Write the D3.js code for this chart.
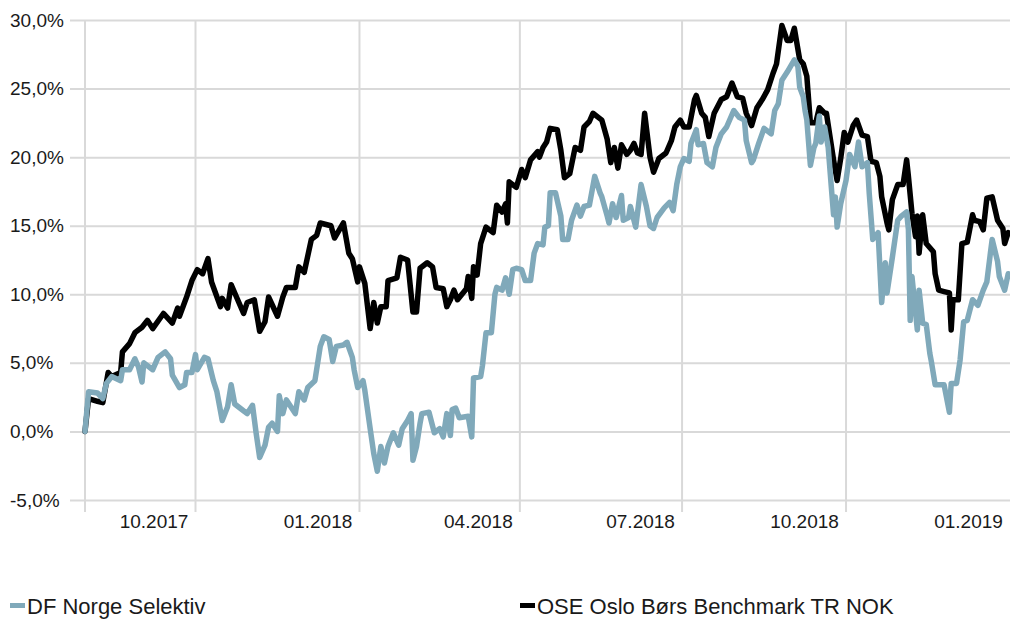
<!DOCTYPE html>
<html>
<head>
<meta charset="utf-8">
<script src="https://cdn.jsdelivr.net/npm/d3@7"></script>
<style>
  html, body { margin: 0; padding: 0; background: #fff; }
  svg { display: block; font-family: 'Liberation Sans', Arial, sans-serif; }
</style>
</head>
<body>
<div id="chart"></div>
<script>
// values (date, return in %)
const fund = [
  ['2017-07-31', 0], ['2017-08-02', 2.9], ['2017-08-07', 2.8], ['2017-08-10', 2.4], ['2017-08-12', 3.5],
  ['2017-08-15', 4.0], ['2017-08-20', 3.7], ['2017-08-21', 4.5], ['2017-08-25', 4.5], ['2017-08-28', 5.3],
  ['2017-08-30', 4.7], ['2017-09-01', 3.6], ['2017-09-02', 5.0], ['2017-09-07', 4.5], ['2017-09-10', 5.4],
  ['2017-09-14', 5.8], ['2017-09-17', 5.3], ['2017-09-18', 4.1], ['2017-09-22', 3.2], ['2017-09-25', 3.4],
  ['2017-09-26', 4.3], ['2017-09-29', 4.3], ['2017-10-01', 5.6], ['2017-10-02', 4.5], ['2017-10-06', 5.4],
  ['2017-10-08', 5.3], ['2017-10-11', 3.7], ['2017-10-13', 2.9], ['2017-10-16', 0.8], ['2017-10-19', 1.8],
  ['2017-10-21', 3.4], ['2017-10-23', 2.0], ['2017-10-27', 1.6], ['2017-10-30', 1.3], ['2017-11-02', 1.9],
  ['2017-11-04', -0.1], ['2017-11-06', -1.9], ['2017-11-09', -1.0], ['2017-11-11', 0.3], ['2017-11-13', 0.6],
  ['2017-11-16', 0.0], ['2017-11-17', 2.6], ['2017-11-19', 1.3], ['2017-11-21', 2.3], ['2017-11-26', 1.3],
  ['2017-11-28', 2.9], ['2017-12-01', 2.3], ['2017-12-03', 3.2], ['2017-12-07', 3.7], ['2017-12-10', 6.2],
  ['2017-12-12', 6.9], ['2017-12-15', 6.7], ['2017-12-17', 5.1], ['2017-12-19', 6.2], ['2017-12-23', 6.3],
  ['2017-12-25', 6.5], ['2017-12-28', 5.4], ['2017-12-29', 4.5], ['2017-12-31', 3.2], ['2018-01-03', 3.7],
  ['2018-01-04', 3.0], ['2018-01-07', 0.2], ['2018-01-09', -1.6], ['2018-01-11', -2.9], ['2018-01-13', -1.1],
  ['2018-01-15', -2.3], ['2018-01-17', -1.1], ['2018-01-20', -0.1], ['2018-01-23', -1.0], ['2018-01-25', 0.2],
  ['2018-01-28', 0.8], ['2018-01-30', 1.3], ['2018-01-31', -2.1], ['2018-02-02', -1.1], ['2018-02-04', 0.6],
  ['2018-02-05', 1.3], ['2018-02-09', 1.4], ['2018-02-12', -0.1], ['2018-02-15', 0.2], ['2018-02-17', -0.4],
  ['2018-02-19', 1.3], ['2018-02-21', -0.3], ['2018-02-22', 1.6], ['2018-02-24', 1.7], ['2018-02-26', 1.0],
  ['2018-03-03', 1.1], ['2018-03-05', -0.4], ['2018-03-06', 3.9], ['2018-03-10', 4.0], ['2018-03-11', 4.8],
  ['2018-03-13', 7.2], ['2018-03-16', 7.2], ['2018-03-18', 10.0], ['2018-03-19', 10.5], ['2018-03-22', 10.3],
  ['2018-03-24', 11.2], ['2018-03-26', 10.0], ['2018-03-28', 11.8], ['2018-03-30', 11.9], ['2018-04-02', 11.8],
  ['2018-04-04', 11.0], ['2018-04-07', 11.0], ['2018-04-09', 13.0], ['2018-04-11', 13.7], ['2018-04-14', 13.6],
  ['2018-04-15', 14.9], ['2018-04-17', 15.0], ['2018-04-18', 17.4], ['2018-04-21', 17.4], ['2018-04-24', 15.7],
  ['2018-04-25', 14.0], ['2018-04-28', 14.0], ['2018-04-30', 15.4], ['2018-05-03', 16.5], ['2018-05-05', 15.7],
  ['2018-05-07', 16.4], ['2018-05-10', 16.5], ['2018-05-13', 18.6], ['2018-05-16', 17.4], ['2018-05-17', 17.1],
  ['2018-05-20', 15.7], ['2018-05-21', 15.2], ['2018-05-23', 16.6], ['2018-05-25', 15.6], ['2018-05-28', 17.2],
  ['2018-05-29', 15.4], ['2018-06-01', 15.6], ['2018-06-02', 16.4], ['2018-06-05', 14.9], ['2018-06-08', 18.0],
  ['2018-06-11', 16.4], ['2018-06-13', 15.0], ['2018-06-15', 14.8], ['2018-06-17', 15.6], ['2018-06-21', 16.3],
  ['2018-06-24', 16.7], ['2018-06-26', 16.1], ['2018-06-28', 18.0], ['2018-06-30', 19.3], ['2018-07-02', 19.9],
  ['2018-07-05', 19.7], ['2018-07-06', 21.0], ['2018-07-09', 22.0], ['2018-07-10', 20.9], ['2018-07-13', 21.0],
  ['2018-07-15', 19.6], ['2018-07-18', 19.3], ['2018-07-20', 20.7], ['2018-07-23', 21.7], ['2018-07-26', 22.2],
  ['2018-07-30', 23.4], ['2018-08-02', 22.9], ['2018-08-05', 22.7], ['2018-08-06', 21.2], ['2018-08-09', 19.6],
  ['2018-08-10', 19.8], ['2018-08-13', 21.0], ['2018-08-16', 22.1], ['2018-08-20', 21.7], ['2018-08-22', 23.4],
  ['2018-08-24', 23.9], ['2018-08-26', 25.6], ['2018-08-29', 26.2], ['2018-09-02', 27.1], ['2018-09-04', 26.6],
  ['2018-09-05', 25.1], ['2018-09-07', 24.4], ['2018-09-08', 23.4], ['2018-09-09', 22.7], ['2018-09-11', 19.4],
  ['2018-09-13', 20.7], ['2018-09-14', 21.0], ['2018-09-16', 23.0], ['2018-09-17', 21.1], ['2018-09-19', 22.2],
  ['2018-09-21', 20.7], ['2018-09-23', 17.4], ['2018-09-24', 15.8], ['2018-09-25', 17.1], ['2018-09-26', 14.9],
  ['2018-09-28', 16.6], ['2018-10-01', 18.3], ['2018-10-03', 20.2], ['2018-10-06', 19.3], ['2018-10-08', 21.1],
  ['2018-10-10', 19.3], ['2018-10-13', 19.6], ['2018-10-14', 17.4], ['2018-10-16', 14.0], ['2018-10-19', 14.5],
  ['2018-10-21', 9.4], ['2018-10-23', 12.3], ['2018-10-24', 10.1], ['2018-10-27', 12.7], ['2018-10-30', 15.4],
  ['2018-11-01', 15.7], ['2018-11-04', 16.0], ['2018-11-05', 14.7], ['2018-11-06', 8.1], ['2018-11-07', 11.3],
  ['2018-11-10', 7.4], ['2018-11-11', 10.3], ['2018-11-13', 7.9], ['2018-11-15', 7.8], ['2018-11-17', 5.7],
  ['2018-11-18', 5.0], ['2018-11-20', 3.4], ['2018-11-25', 3.4], ['2018-11-28', 1.4], ['2018-11-29', 3.5],
  ['2018-12-02', 3.5], ['2018-12-04', 5.2], ['2018-12-06', 8.0], ['2018-12-08', 8.1], ['2018-12-11', 9.6],
  ['2018-12-14', 9.2], ['2018-12-17', 10.3], ['2018-12-19', 10.9], ['2018-12-21', 13.0], ['2018-12-22', 14.0],
  ['2018-12-25', 12.4], ['2018-12-26', 11.3], ['2018-12-29', 10.3], ['2018-12-31', 11.5]
]

const benchmark = [
  ['2017-07-31', 0], ['2017-08-02', 2.4], ['2017-08-07', 2.2], ['2017-08-10', 2.1], ['2017-08-13', 4.3],
  ['2017-08-15', 4.0], ['2017-08-20', 4.3], ['2017-08-21', 5.8], ['2017-08-25', 6.4], ['2017-08-28', 7.2],
  ['2017-09-01', 7.6], ['2017-09-04', 8.1], ['2017-09-07', 7.5], ['2017-09-13', 8.6], ['2017-09-18', 7.9],
  ['2017-09-21', 9.0], ['2017-09-22', 8.4], ['2017-09-26', 9.8], ['2017-09-29', 11.0], ['2017-10-02', 11.8],
  ['2017-10-05', 11.5], ['2017-10-08', 12.6], ['2017-10-10', 10.9], ['2017-10-15', 9.1], ['2017-10-16', 9.7],
  ['2017-10-19', 9.0], ['2017-10-21', 10.7], ['2017-10-24', 9.8], ['2017-10-28', 8.6], ['2017-10-30', 9.4],
  ['2017-11-03', 9.6], ['2017-11-06', 7.3], ['2017-11-09', 8.0], ['2017-11-11', 9.8], ['2017-11-16', 8.4],
  ['2017-11-19', 9.8], ['2017-11-21', 10.5], ['2017-11-26', 10.5], ['2017-11-28', 12.0], ['2017-12-01', 11.6],
  ['2017-12-05', 14.0], ['2017-12-08', 14.3], ['2017-12-10', 15.2], ['2017-12-16', 15.0], ['2017-12-18', 14.1],
  ['2017-12-23', 15.2], ['2017-12-26', 13.0], ['2017-12-28', 12.6], ['2017-12-31', 10.9], ['2018-01-01', 12.0],
  ['2018-01-04', 10.8], ['2018-01-07', 7.5], ['2018-01-09', 9.4], ['2018-01-11', 7.9], ['2018-01-13', 9.1],
  ['2018-01-16', 9.1], ['2018-01-17', 11.0], ['2018-01-22', 11.2], ['2018-01-24', 12.7], ['2018-01-28', 12.5],
  ['2018-01-31', 8.7], ['2018-02-02', 8.7], ['2018-02-04', 11.9], ['2018-02-08', 12.3], ['2018-02-11', 12.0],
  ['2018-02-13', 10.5], ['2018-02-17', 10.4], ['2018-02-19', 9.1], ['2018-02-21', 9.6], ['2018-02-23', 10.3],
  ['2018-02-25', 9.6], ['2018-03-02', 10.4], ['2018-03-03', 11.3], ['2018-03-05', 9.7], ['2018-03-06', 12.0],
  ['2018-03-08', 11.4], ['2018-03-10', 13.7], ['2018-03-13', 14.9], ['2018-03-17', 14.5], ['2018-03-19', 16.5],
  ['2018-03-22', 16.0], ['2018-03-24', 16.6], ['2018-03-25', 15.2], ['2018-03-26', 18.2], ['2018-03-30', 17.8],
  ['2018-04-02', 19.1], ['2018-04-04', 18.5], ['2018-04-07', 19.8], ['2018-04-11', 20.4], ['2018-04-12', 20.0],
  ['2018-04-14', 20.7], ['2018-04-16', 21.1], ['2018-04-18', 22.1], ['2018-04-22', 22.0], ['2018-04-24', 20.5],
  ['2018-04-26', 18.5], ['2018-04-29', 18.8], ['2018-05-02', 20.7], ['2018-05-05', 20.5], ['2018-05-07', 22.2],
  ['2018-05-10', 22.6], ['2018-05-12', 23.2], ['2018-05-15', 22.9], ['2018-05-17', 22.7], ['2018-05-20', 21.3],
  ['2018-05-22', 19.6], ['2018-05-24', 20.7], ['2018-05-26', 19.2], ['2018-05-28', 20.9], ['2018-05-31', 20.2],
  ['2018-06-02', 20.5], ['2018-06-04', 21.0], ['2018-06-06', 20.3], ['2018-06-08', 20.2], ['2018-06-10', 23.2],
  ['2018-06-13', 20.0], ['2018-06-15', 18.9], ['2018-06-18', 19.9], ['2018-06-22', 20.3], ['2018-06-25', 21.2],
  ['2018-06-27', 22.2], ['2018-06-30', 22.7], ['2018-07-02', 22.2], ['2018-07-05', 22.2], ['2018-07-08', 24.2],
  ['2018-07-09', 24.5], ['2018-07-12', 23.2], ['2018-07-14', 22.9], ['2018-07-16', 21.5], ['2018-07-19', 23.2],
  ['2018-07-23', 24.2], ['2018-07-26', 24.4], ['2018-07-29', 25.4], ['2018-08-01', 24.4], ['2018-08-04', 24.3],
  ['2018-08-06', 23.2], ['2018-08-09', 22.3], ['2018-08-12', 23.6], ['2018-08-15', 24.2], ['2018-08-18', 24.9],
  ['2018-08-21', 26.1], ['2018-08-23', 26.8], ['2018-08-26', 29.6], ['2018-08-29', 28.5], ['2018-08-31', 28.5],
  ['2018-09-02', 29.4], ['2018-09-05', 27.1], ['2018-09-07', 26.8], ['2018-09-09', 25.9], ['2018-09-11', 22.5],
  ['2018-09-14', 22.5], ['2018-09-16', 23.6], ['2018-09-19', 23.2], ['2018-09-20', 23.2], ['2018-09-24', 19.8],
  ['2018-09-26', 18.3], ['2018-09-28', 19.9], ['2018-09-30', 21.8], ['2018-10-02', 21.1], ['2018-10-05', 22.3],
  ['2018-10-07', 22.7], ['2018-10-10', 21.6], ['2018-10-13', 21.5], ['2018-10-15', 19.7], ['2018-10-18', 19.6],
  ['2018-10-20', 18.6], ['2018-10-21', 17.1], ['2018-10-24', 15.2], ['2018-10-25', 14.7], ['2018-10-27', 16.9],
  ['2018-10-30', 18.0], ['2018-11-02', 18.0], ['2018-11-04', 19.8], ['2018-11-05', 18.6], ['2018-11-07', 15.9],
  ['2018-11-09', 14.2], ['2018-11-10', 15.7], ['2018-11-11', 13.0], ['2018-11-13', 15.8], ['2018-11-15', 13.7],
  ['2018-11-19', 13.1], ['2018-11-20', 11.5], ['2018-11-22', 10.3], ['2018-11-25', 10.2], ['2018-11-28', 10.1],
  ['2018-11-29', 7.4], ['2018-11-30', 9.6], ['2018-12-03', 9.6], ['2018-12-05', 13.7], ['2018-12-08', 13.8],
  ['2018-12-11', 15.8], ['2018-12-12', 15.4], ['2018-12-15', 15.3], ['2018-12-17', 14.7], ['2018-12-19', 17.0],
  ['2018-12-22', 17.1], ['2018-12-25', 15.4], ['2018-12-28', 14.8], ['2018-12-29', 13.7], ['2018-12-31', 14.5]
]

const seriesNames = ['DF Norge Selektiv', 'OSE Oslo Børs Benchmark TR NOK']
const yTicks = [-5, 0, 5, 10, 15, 20, 25, 30]
const xTicks = ['2017-10-01', '2018-01-01', '2018-04-01', '2018-07-01', '2018-10-01', '2019-01-01']
const xDomain = ['2017-07-31', '2019-01-01']

const width = 1010
const height = 619
const margin = { top: 20, right: 0, bottom: 119, left: 85 }
const colors = ['#80a9ba', '#000000']
const gridColor = '#d9d9d9'

const parse = d3.timeParse('%Y-%m-%d')
const locale = d3.formatLocale({ decimal: ',', thousands: ' ', grouping: [3], currency: ['', ''], minus: '-' })
const pct = d => locale.format('.1f')(d) + '%'

const x = d3.scaleTime()
  .domain(xDomain.map(parse))
  .range([margin.left, width - margin.right])

const y = d3.scaleLinear()
  .domain([-5, 30])
  .range([height - margin.bottom, margin.top])

const svg = d3.select('#chart').append('svg')
  .attr('width', width)
  .attr('height', height)

// horizontal grid + y labels
svg.append('g')
  .attr('transform', 'translate(70,0)')
  .call(d3.axisRight(y).tickValues(yTicks).tickSize(width - 70).tickFormat(pct))
  .call(g => g.select('.domain').remove())
  .call(g => g.selectAll('line').attr('stroke', gridColor).attr('stroke-width', 2))
  .call(g => g.selectAll('text')
    .attr('x', -60)
    .attr('text-anchor', 'start')
    .attr('fill', '#1a1a1a')
    .attr('font-size', 19)
    .attr('font-family', "'Liberation Sans', Arial, sans-serif"))

// vertical grid at start and quarter starts
const vLines = [xDomain[0]].concat(xTicks.slice(0, -1)).map(parse)
svg.append('g')
  .selectAll('line')
  .data(vLines).enter()
  .append('line')
  .attr('x1', d => x(d))
  .attr('x2', d => x(d))
  .attr('y1', margin.top)
  .attr('y2', height - margin.bottom + 12)
  .attr('stroke', gridColor)
  .attr('stroke-width', 2)

// x labels sit to the left of their gridline
svg.append('g')
  .attr('transform', `translate(-42, ${height - margin.bottom})`)
  .call(d3.axisBottom(x).tickValues(xTicks.map(parse)).tickSize(0).tickFormat(d3.timeFormat('%m.%Y')))
  .call(g => g.select('.domain').remove())
  .call(g => g.selectAll('text')
    .attr('y', 28)
    .attr('dy', 0)
    .attr('fill', '#1a1a1a')
    .attr('font-size', 19)
    .attr('font-family', "'Liberation Sans', Arial, sans-serif"))

const line = d3.line()
  .x(d => x(parse(d[0])))
  .y(d => y(d[1]))

svg.append('path')
  .datum(benchmark)
  .attr('fill', 'none')
  .attr('stroke', colors[1])
  .attr('stroke-width', 5.5)
  .attr('stroke-linejoin', 'round')
  .attr('stroke-linecap', 'round')
  .attr('d', line)

svg.append('path')
  .datum(fund)
  .attr('fill', 'none')
  .attr('stroke', colors[0])
  .attr('stroke-width', 5.5)
  .attr('stroke-linejoin', 'round')
  .attr('stroke-linecap', 'round')
  .attr('d', line)

// legend
const legend = svg.append('g')
  .selectAll('g')
  .data(seriesNames).enter()
  .append('g')
  .attr('transform', (d, i) => `translate(${i === 0 ? 10 : 520}, 606)`)

legend.append('rect')
  .attr('x', 0)
  .attr('y', -3)
  .attr('width', 15)
  .attr('height', 5)
  .attr('fill', (d, i) => colors[i])

legend.append('text')
  .attr('x', 17)
  .attr('y', 8)
  .attr('font-size', 22)
  .attr('fill', '#1a1a1a')
  .text(d => d)
</script>
</body>
</html>
